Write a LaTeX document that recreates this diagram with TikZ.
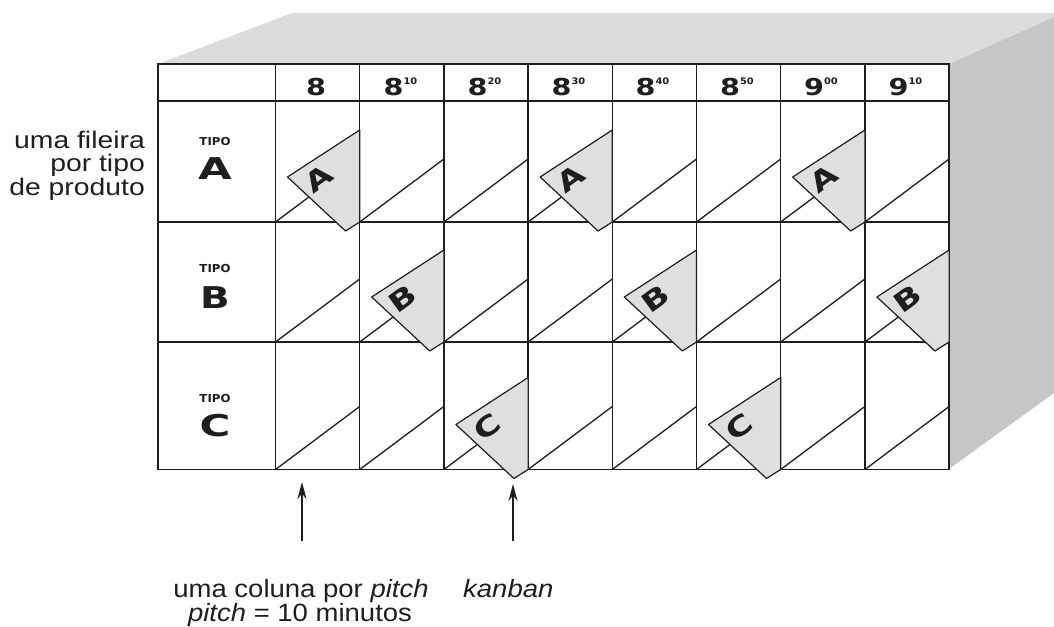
\documentclass[tikz,border=0pt]{standalone}
\usepackage{fontspec}
\usepackage{graphicx}
\setmainfont{Liberation Sans}
\newfontfamily\labfont[FakeStretch=1.18]{Liberation Sans}
\newfontfamily\botfont[FakeStretch=1.1]{Liberation Sans}
\newfontfamily\heavy{DejaVu Sans}
\usetikzlibrary{arrows.meta}
\definecolor{topc}{HTML}{DCDCDC}
\definecolor{sidec}{HTML}{C6C6C6}
\definecolor{cardc}{HTML}{DFDFDF}
\definecolor{ink}{HTML}{1E1E1E}
\newcommand{\wx}[2]{\scalebox{#1}[1]{#2}}
\tikzset{
  gridline/.style={draw=ink, line width=1.4pt},
  slotline/.style={draw=ink, line width=1.3pt},
  cardshape/.style={fill=cardc, draw=ink, line width=1.2pt, line join=round},
  cardtxt/.style={inner sep=0pt, text=ink, font=\heavy\bfseries\fontsize{27}{27}\selectfont},
  headtxt/.style={inner sep=0pt, anchor=base, text=ink},
  tipotxt/.style={inner sep=0pt, anchor=base, text=ink, font=\heavy\bfseries\fontsize{11}{11}\selectfont},
  tipoletter/.style={inner sep=0pt, anchor=base, text=ink, font=\heavy\bfseries\fontsize{30}{30}\selectfont},
  sidelab/.style={inner sep=0pt, anchor=base east, text=ink, font=\labfont\fontsize{24}{24}\selectfont},
  botlab/.style={inner sep=0pt, anchor=base, text=ink, font=\botfont\fontsize{25}{25}\selectfont},
  arr/.style={draw=ink, line width=1.6pt, -{Stealth[length=17pt,width=9pt]}}
}
\newcommand{\hd}[2]{{\heavy\bfseries\wx{1.23}{\fontsize{23.3}{23}\selectfont #1}\raisebox{10pt}{\wx{1.1}{\fontsize{9}{9}\selectfont #2}}}}
\newcommand{\kcard}[4]{%
  \filldraw[cardshape] (#1+84.2,#2-92) -- (#1+12,#2-45) -- (#1+70,#2+9) -- (#1+84.2,#2) -- cycle;
  \node[cardtxt, rotate=36] (#4) at (#1+43,#2-43) {\wx{1.3}{#3}};
}
\begin{document}
\begin{tikzpicture}[x=1pt,y=-1pt]
\path[use as bounding box] (0,0) rectangle (1054,626);
% 3D box
\fill[topc] (158,64) -- (292,13) -- (1054,13) -- (1054,17) -- (949,64) -- cycle;
\fill[sidec] (949,64) -- (1054,17) -- (1054,393) -- (949,469) -- cycle;
\fill[white] (158,64) rectangle (949.1,469.5);
% slot lines
\foreach \i in {0,...,7}{
  \pgfmathsetmacro{\xa}{275.5+84.2*\i}
  \pgfmathsetmacro{\xb}{275.5+84.2*(\i+1)}
  \foreach \yb in {222,342,469.5}{
    \draw[slotline] (\xa,\yb) -- (\xb,\yb-63);
  }
}
% grid
\draw[gridline] (158,64) rectangle (949.1,469.5);
\foreach \y in {101,222,342}{ \draw[gridline] (158,\y) -- (949.1,\y); }
\foreach \i in {0,...,7}{
  \pgfmathsetmacro{\xa}{275.5+84.2*\i}
  \draw[gridline] (\xa,64) -- (\xa,469.5);
}
% header
\node[headtxt] (h1) at (316,95) {\hd{8}{}};
\node[headtxt] (h2) at (400.5,95) {\hd{8}{10}};
\node[headtxt] (h3) at (484.5,95) {\hd{8}{20}};
\node[headtxt] (h4) at (568.5,95) {\hd{8}{30}};
\node[headtxt] (h5) at (652.5,95) {\hd{8}{40}};
\node[headtxt] (h6) at (737,95) {\hd{8}{50}};
\node[headtxt] (h7) at (821,95) {\hd{9}{00}};
\node[headtxt] (h8) at (905.5,95) {\hd{9}{10}};
% row labels
\node[tipotxt] (ta) at (215,145) {\wx{1.07}{TIPO}};
\node[tipoletter] (la) at (215,179) {\wx{1.45}{A}};
\node[tipotxt] (tb) at (215,272) {\wx{1.07}{TIPO}};
\node[tipoletter] (lb) at (215,308) {\wx{1.3}{B}};
\node[tipotxt] (tc) at (215,402) {\wx{1.07}{TIPO}};
\node[tipoletter] (lc) at (215,436.5) {\wx{1.4}{C}};
% cards
\kcard{275.5}{222}{A}{ka1}
\kcard{528.1}{222}{A}{ka2}
\kcard{780.7}{222}{A}{ka3}
\kcard{359.7}{342}{B}{kb1}
\kcard{612.3}{342}{B}{kb2}
\kcard{864.9}{342}{B}{kb3}
\kcard{443.9}{469.5}{C}{kc1}
\kcard{696.5}{469.5}{C}{kc2}
% side label
\node[sidelab] (s1) at (145,148) {uma fileira};
\node[sidelab] (s2) at (145,171.5) {por tipo};
\node[sidelab] (s3) at (145,195) {de produto};
% bottom labels
\node[botlab] (b1) at (301,597) {uma coluna por \textit{pitch}};
\node[botlab] (b2) at (300,621) {\textit{pitch} = 10 minutos};
\node[botlab, anchor=base west] (b3) at (463,597) {\textit{kanban}};
% arrows
\coordinate (a1b) at (302,541);
\coordinate (a1t) at (302,482);
\coordinate (a2b) at (513,541);
\coordinate (a2t) at (513,484);
\draw[arr] (a1b) -- (a1t);
\draw[arr] (a2b) -- (a2t);
\end{tikzpicture}
\end{document}
